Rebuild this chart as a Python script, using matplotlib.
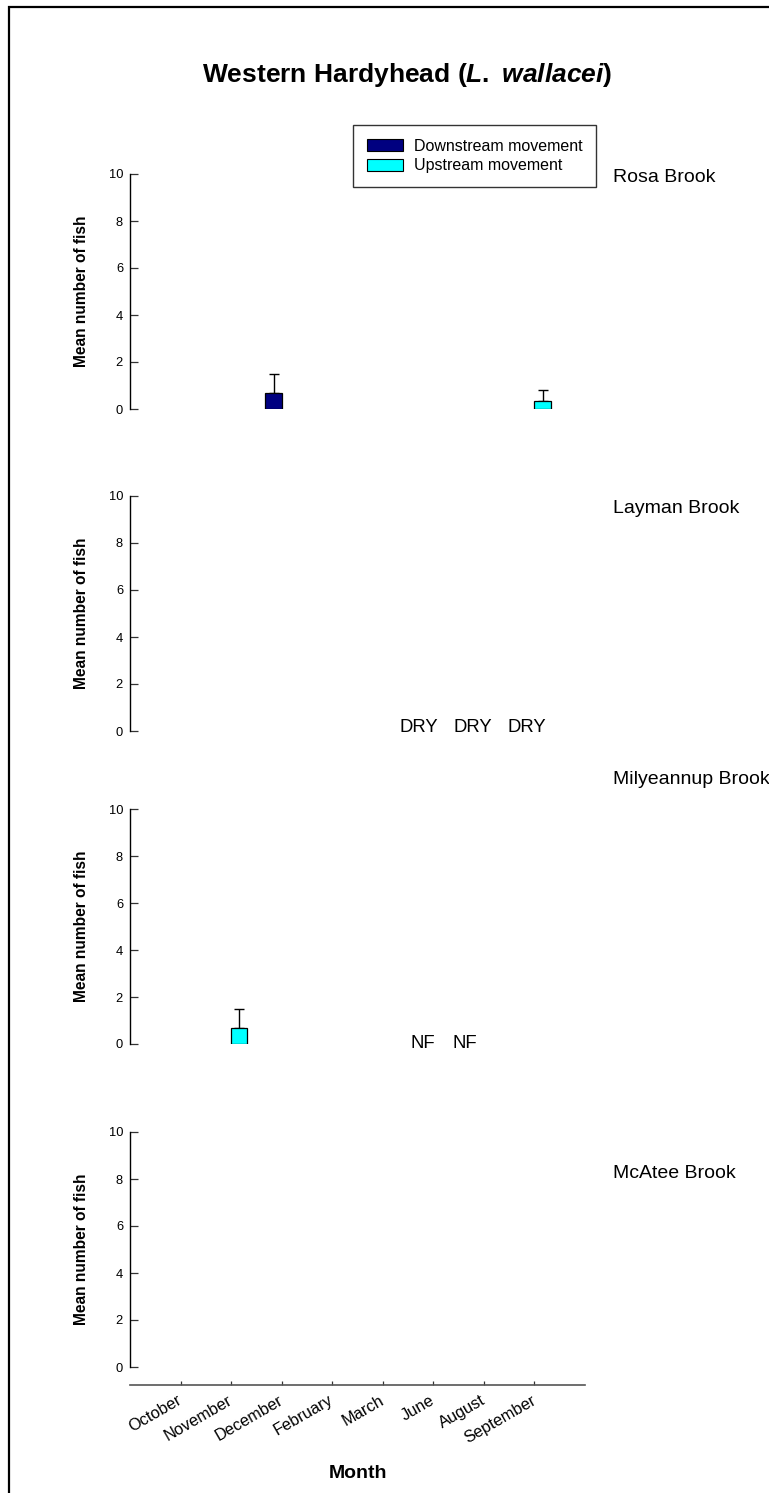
import numpy as np
import matplotlib
matplotlib.use("Agg")
import matplotlib.pyplot as plt
from matplotlib.patches import Rectangle, Patch

plt.rcParams['font.family'] = ['Liberation Sans', 'DejaVu Sans']
plt.rcParams['mathtext.fontset'] = 'custom'
plt.rcParams['mathtext.it'] = 'Liberation Sans:italic:bold'
plt.rcParams['mathtext.rm'] = 'Liberation Sans:bold'
plt.rcParams['mathtext.bf'] = 'Liberation Sans:bold'

# ---------------- data ----------------
months = ['October', 'November', 'December', 'February', 'March', 'June', 'August', 'September']
sites = ['Rosa Brook', 'Layman Brook', 'Milyeannup Brook', 'McAtee Brook']
nan = np.nan
down_mean = {
    'Rosa Brook':       [nan, nan, 0.67, nan, nan, nan, nan, nan],
    'Layman Brook':     [nan] * 8,
    'Milyeannup Brook': [nan] * 8,
    'McAtee Brook':     [nan] * 8,
}
down_se = {
    'Rosa Brook':       [nan, nan, 0.80, nan, nan, nan, nan, nan],
    'Layman Brook':     [nan] * 8,
    'Milyeannup Brook': [nan] * 8,
    'McAtee Brook':     [nan] * 8,
}
up_mean = {
    'Rosa Brook':       [nan, nan, nan, nan, nan, nan, nan, 0.36],
    'Layman Brook':     [nan] * 8,
    'Milyeannup Brook': [nan, 0.67, nan, nan, nan, nan, nan, nan],
    'McAtee Brook':     [nan] * 8,
}
up_se = {
    'Rosa Brook':       [nan, nan, nan, nan, nan, nan, nan, 0.46],
    'Layman Brook':     [nan] * 8,
    'Milyeannup Brook': [nan, 0.82, nan, nan, nan, nan, nan, nan],
    'McAtee Brook':     [nan] * 8,
}
notes = {
    'Layman Brook':     (['DRY', 'DRY', 'DRY'], [4.71, 5.78, 6.84], 0.13),
    'Milyeannup Brook': (['NF', 'NF'], [4.79, 5.63], 0.04),
}
yticks = [0, 2, 4, 6, 8, 10]

DOWN_C = '#000080'
UP_C = '#00FFFF'

# ---------------- layout ----------------
W, H = 769, 1493
fig = plt.figure(figsize=(W / 100, H / 100), dpi=100)

def fx(px):
    return px / W

def fy(py):
    return 1 - py / H

ax_left, ax_right = 130, 585
panels_px = [(174, 409), (496, 731), (809, 1044), (1132, 1367)]
label_y = [178, 508, 780, 1173]

x = np.arange(len(months))
bw = 0.32

for i, site in enumerate(sites):
    top, bot = panels_px[i]
    ax = fig.add_axes([fx(ax_left), fy(bot), fx(ax_right) - fx(ax_left), (bot - top) / H])
    ax.set_xlim(-1.0, 8.0)
    ax.set_ylim(0, 10)
    for s in ['top', 'right']:
        ax.spines[s].set_visible(False)
    ax.spines['left'].set_linewidth(1.0)
    ax.tick_params(axis='y', direction='in', length=5.8, width=0.9, pad=5,
                   labelsize=9.3, color='#333333')
    ax.set_yticks(yticks)
    ax.set_yticklabels([str(t) for t in yticks])

    dm = np.array(down_mean[site], dtype=float)
    ds = np.array(down_se[site], dtype=float)
    um = np.array(up_mean[site], dtype=float)
    us = np.array(up_se[site], dtype=float)

    ax.bar(x - bw / 2, dm, width=bw, color=DOWN_C, edgecolor='black', linewidth=0.9, zorder=3)
    ax.bar(x + bw / 2, um, width=bw, color=UP_C, edgecolor='black', linewidth=0.9, zorder=3)
    for xs, m, s in [(x - bw / 2, dm, ds), (x + bw / 2, um, us)]:
        ok = ~np.isnan(m)
        if ok.any():
            ax.errorbar(xs[ok], m[ok], yerr=[np.zeros(ok.sum()), s[ok]], fmt='none',
                        ecolor='black', elinewidth=1.0, capsize=3.8, capthick=1.0, zorder=2)

    if site in notes:
        txts, xs_n, yv = notes[site]
        for t, xn in zip(txts, xs_n):
            ax.text(xn, yv, t, ha='center', va='center', fontsize=13.3, color='black')

    if i == len(sites) - 1:
        ax.spines['bottom'].set_position(('outward', 13))
        ax.spines['bottom'].set_color('#555555')
        ax.spines['bottom'].set_linewidth(1.2)
        ax.set_xticks(x)
        ax.set_xticklabels(months, rotation=30, ha='right', va='center',
                           rotation_mode='anchor', fontsize=11.8)
        ax.tick_params(axis='x', direction='in', length=3.2, width=0.9, pad=10,
                       color='#333333')
    else:
        ax.spines['bottom'].set_visible(False)
        ax.set_xticks([])

    fig.text(fx(82), fy((top + bot) / 2), 'Mean number of fish', rotation=90,
             ha='center', va='center', fontsize=11.2, fontweight='bold')
    fig.text(fx(613), fy(label_y[i]), site, ha='left', va='center', fontsize=14)

# title
fig.text(fx(407), fy(75), r'Western Hardyhead (' + r'$\mathit{L.\ wallacei}$' + r')',
         ha='center', va='center', fontsize=19, fontweight='bold')

# x label
fig.text(fx(358), fy(1473), 'Month', ha='center', va='center', fontsize=14, fontweight='bold')

# legend
handles = [Patch(facecolor=DOWN_C, edgecolor='black', linewidth=0.8, label='Downstream movement'),
           Patch(facecolor=UP_C, edgecolor='black', linewidth=0.8, label='Upstream movement')]
leg = fig.legend(handles=handles, loc='upper left', bbox_to_anchor=(fx(353), fy(125)),
                 frameon=True, fancybox=False, edgecolor='black', fontsize=11.5,
                 handlelength=2.3, handleheight=0.75, handletextpad=0.65,
                 labelspacing=0.3, borderpad=0.85, borderaxespad=0)
leg.get_frame().set_linewidth(1.0)

# outer frame
fig.add_artist(Rectangle((fx(9), -0.1), 1.2, fy(7) + 0.1, transform=fig.transFigure,
                         fill=False, edgecolor='black', linewidth=1.6))

fig.savefig('out.png', dpi=100)
